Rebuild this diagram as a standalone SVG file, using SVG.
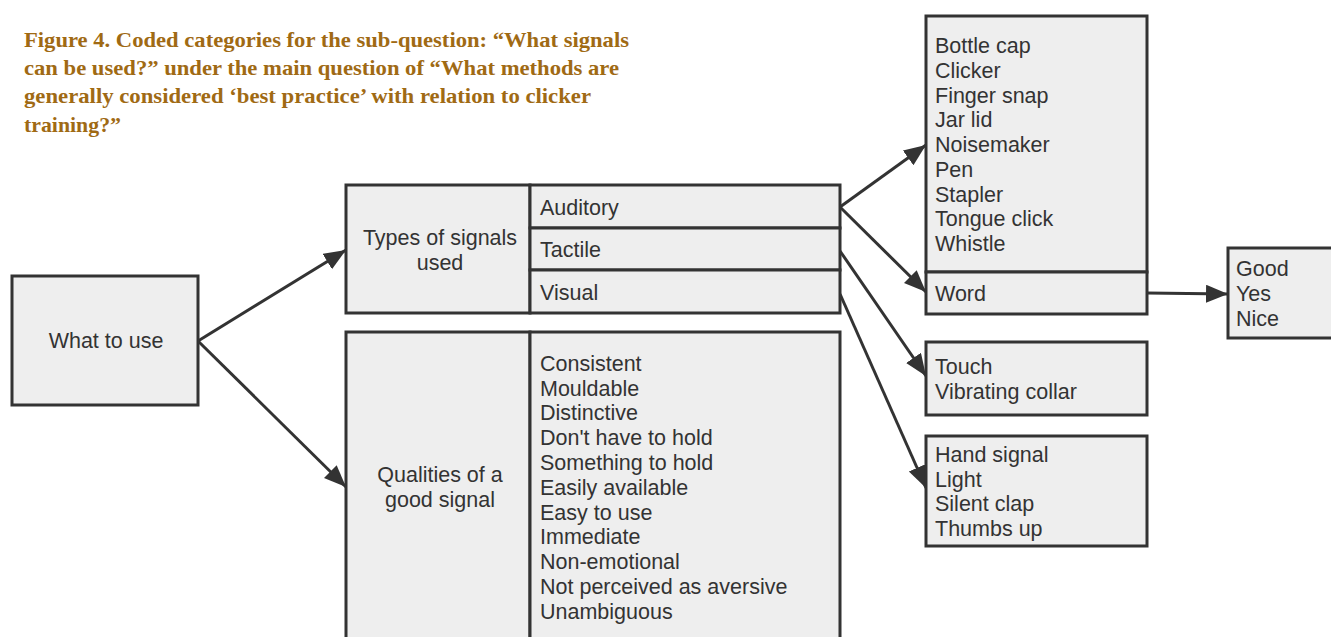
<svg xmlns="http://www.w3.org/2000/svg" width="1331" height="637" viewBox="0 0 1331 637">
<defs>
<style>
.box{fill:#eeeeee;stroke:#333333;stroke-width:3}
.t{font-family:"Liberation Sans",Arial,sans-serif;font-size:21.5px;fill:#333333}
.c{text-anchor:middle}
.title{font-family:"Liberation Serif","Times New Roman",serif;font-weight:bold;font-size:21.5px;fill:#a06a14}
.conn{stroke:#333333;stroke-width:3;fill:none}
</style>
<marker id="arr" markerUnits="userSpaceOnUse" markerWidth="24" markerHeight="20" refX="22" refY="9" orient="auto">
<path d="M0,0 L22,9 L0,18 z" fill="#333333"/>
</marker>
</defs>
<rect width="1331" height="637" fill="#ffffff"/>
<g id="title">
<text class="title" x="24" y="47" textLength="605" lengthAdjust="spacingAndGlyphs">Figure 4. Coded categories for the sub-question: “What signals</text>
<text class="title" x="24" y="75" textLength="595" lengthAdjust="spacingAndGlyphs">can be used?” under the main question of “What methods are</text>
<text class="title" x="24" y="103" textLength="567" lengthAdjust="spacingAndGlyphs">generally considered ‘best practice’ with relation to clicker</text>
<text class="title" x="24" y="132" textLength="97" lengthAdjust="spacingAndGlyphs">training?”</text>
</g>
<g id="connectors">
<line class="conn" x1="198" y1="341" x2="346" y2="250" marker-end="url(#arr)"/>
<line class="conn" x1="198" y1="341" x2="346" y2="487" marker-end="url(#arr)"/>
<line class="conn" x1="840" y1="207" x2="926" y2="145" marker-end="url(#arr)"/>
<line class="conn" x1="840" y1="207" x2="926" y2="292" marker-end="url(#arr)"/>
<line class="conn" x1="840" y1="251" x2="926" y2="376" marker-end="url(#arr)"/>
<line class="conn" x1="840" y1="294" x2="926" y2="488" marker-end="url(#arr)"/>
<line class="conn" x1="1147" y1="293" x2="1228" y2="294" marker-end="url(#arr)"/>
</g>
<g id="what-to-use">
<rect class="box" x="12" y="276" width="186" height="129"/>
<text class="t c" x="106" y="348">What to use</text>
</g>
<g id="types">
<rect class="box" x="346" y="185" width="184" height="128"/>
<text class="t c" x="440" y="245">Types of signals</text>
<text class="t c" x="440" y="270">used</text>
</g>
<g id="auditory">
<rect class="box" x="530" y="185" width="310" height="43"/>
<text class="t" x="540" y="215">Auditory</text>
</g>
<g id="tactile">
<rect class="box" x="530" y="228" width="310" height="42"/>
<text class="t" x="540" y="257">Tactile</text>
</g>
<g id="visual">
<rect class="box" x="530" y="270" width="310" height="43"/>
<text class="t" x="540" y="300">Visual</text>
</g>
<g id="qualities">
<rect class="box" x="346" y="332" width="184" height="320"/>
<text class="t c" x="440" y="482">Qualities of a</text>
<text class="t c" x="440" y="507">good signal</text>
</g>
<g id="qualities-list">
<rect class="box" x="530" y="332" width="310" height="320"/>
<text class="t" x="540" y="371">Consistent</text>
<text class="t" x="540" y="396">Mouldable</text>
<text class="t" x="540" y="420">Distinctive</text>
<text class="t" x="540" y="445">Don't have to hold</text>
<text class="t" x="540" y="470">Something to hold</text>
<text class="t" x="540" y="495">Easily available</text>
<text class="t" x="540" y="520">Easy to use</text>
<text class="t" x="540" y="544">Immediate</text>
<text class="t" x="540" y="569">Non-emotional</text>
<text class="t" x="540" y="594">Not perceived as aversive</text>
<text class="t" x="540" y="619">Unambiguous</text>
</g>
<g id="auditory-list">
<rect class="box" x="926" y="16" width="221" height="256"/>
<text class="t" x="935" y="53">Bottle cap</text>
<text class="t" x="935" y="78">Clicker</text>
<text class="t" x="935" y="103">Finger snap</text>
<text class="t" x="935" y="127">Jar lid</text>
<text class="t" x="935" y="152">Noisemaker</text>
<text class="t" x="935" y="177">Pen</text>
<text class="t" x="935" y="202">Stapler</text>
<text class="t" x="935" y="226">Tongue click</text>
<text class="t" x="935" y="251">Whistle</text>
</g>
<g id="word">
<rect class="box" x="926" y="272" width="221" height="42"/>
<text class="t" x="935" y="301">Word</text>
</g>
<g id="word-list">
<rect class="box" x="1228" y="248" width="110" height="90"/>
<text class="t" x="1236" y="276">Good</text>
<text class="t" x="1236" y="301">Yes</text>
<text class="t" x="1236" y="326">Nice</text>
</g>
<g id="tactile-list">
<rect class="box" x="926" y="342" width="221" height="73"/>
<text class="t" x="935" y="374">Touch</text>
<text class="t" x="935" y="399">Vibrating collar</text>
</g>
<g id="visual-list">
<rect class="box" x="926" y="436" width="221" height="110"/>
<text class="t" x="935" y="462">Hand signal</text>
<text class="t" x="935" y="487">Light</text>
<text class="t" x="935" y="511">Silent clap</text>
<text class="t" x="935" y="536">Thumbs up</text>
</g>
</svg>
